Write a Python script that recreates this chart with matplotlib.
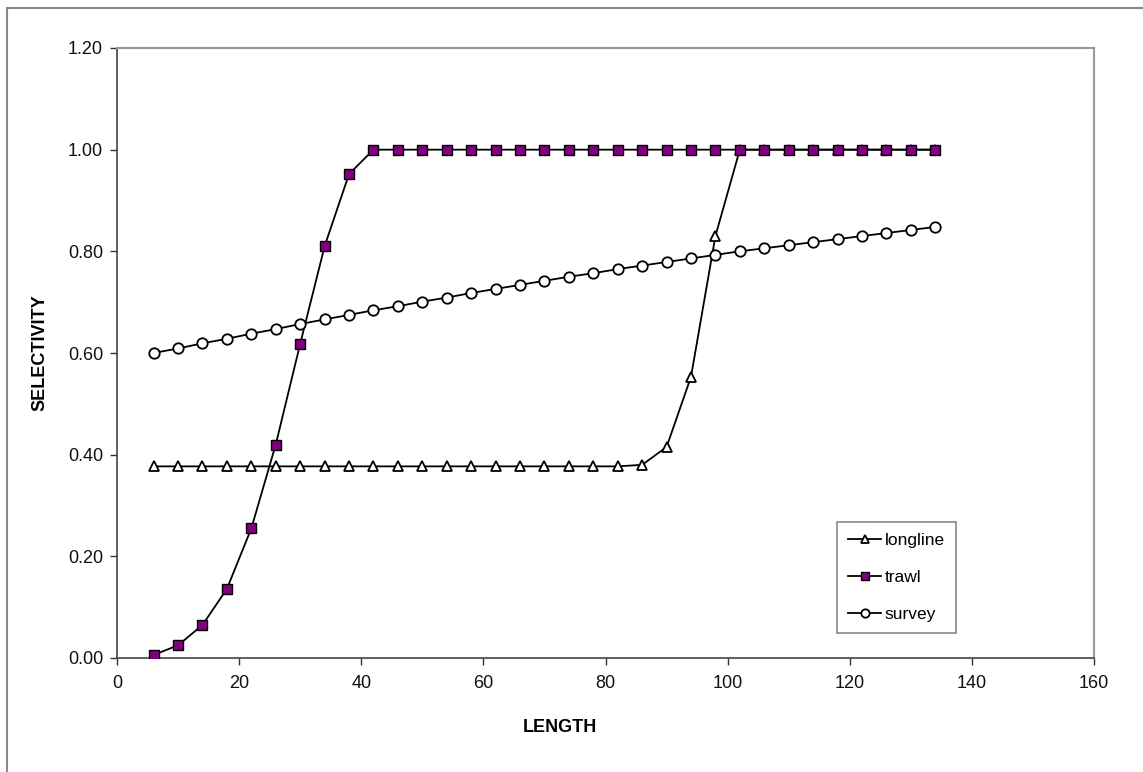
import matplotlib
matplotlib.use("Agg")
import matplotlib.pyplot as plt
from matplotlib.lines import Line2D

plt.rcParams['font.family'] = ['Liberation Sans', 'DejaVu Sans']

length = [6, 10, 14, 18, 22, 26, 30, 34, 38, 42, 46, 50, 54, 58, 62, 66, 70,
          74, 78, 82, 86, 90, 94, 98, 102, 106, 110, 114, 118, 122, 126, 130, 134]
longline = [0.377, 0.377, 0.377, 0.377, 0.377, 0.377, 0.377, 0.377, 0.377, 0.377,
            0.377, 0.377, 0.377, 0.377, 0.377, 0.377, 0.377, 0.377, 0.377, 0.377,
            0.380, 0.415, 0.553, 0.830, 1.0, 1.0, 1.0, 1.0, 1.0, 1.0, 1.0, 1.0, 1.0]
trawl = [0.006, 0.025, 0.065, 0.136, 0.255, 0.420, 0.618, 0.810, 0.952, 1.0,
         1.0, 1.0, 1.0, 1.0, 1.0, 1.0, 1.0, 1.0, 1.0, 1.0, 1.0, 1.0, 1.0, 1.0,
         1.0, 1.0, 1.0, 1.0, 1.0, 1.0, 1.0, 1.0, 1.0]
survey = [0.600, 0.609, 0.619, 0.628, 0.638, 0.647, 0.657, 0.666, 0.675, 0.684,
          0.692, 0.701, 0.709, 0.718, 0.726, 0.734, 0.742, 0.750, 0.757, 0.765,
          0.772, 0.779, 0.786, 0.793, 0.800, 0.806, 0.812, 0.818, 0.824, 0.830,
          0.836, 0.842, 0.848]

xticks = [0, 20, 40, 60, 80, 100, 120, 140, 160]
yticks = [0.0, 0.2, 0.4, 0.6, 0.8, 1.0, 1.2]

W, H = 1143, 772
fig = plt.figure(figsize=(W / 100, H / 100), dpi=100)
ax = fig.add_axes([117 / W, 1 - 658 / H, (1094 - 117) / W, (658 - 48) / H])

ax.plot(length, longline, color='black', lw=1.3, marker='^', ms=7,
        mfc='white', mec='black', mew=1.3, label='longline', zorder=3)
ax.plot(length, trawl, color='black', lw=1.3, marker='s', ms=7,
        mfc='#800080', mec='black', mew=1.0, label='trawl', zorder=4)
ax.plot(length, survey, color='black', lw=1.3, marker='o', ms=7.5,
        mfc='white', mec='black', mew=1.3, label='survey', zorder=5)

ax.set_xlim(0, 160)
ax.set_ylim(0, 1.2)
ax.set_xticks(xticks)
ax.set_yticks(yticks)
ax.set_yticklabels([f"{v:.2f}" for v in yticks])
ax.tick_params(axis='both', direction='out', length=5, width=1, colors='#333333',
               labelsize=13, labelcolor='#111111', pad=5)
ax.tick_params(axis='x', pad=7)

for s in ['left', 'bottom']:
    ax.spines[s].set_color('#444444')
    ax.spines[s].set_linewidth(1.2)
for s in ['top', 'right']:
    ax.spines[s].set_color('#999999')
    ax.spines[s].set_linewidth(1.5)

fig.text(560 / W, 1 - 727 / H, 'LENGTH', fontsize=13, fontweight='bold',
         ha='center', va='center')
fig.text(40 / W, 1 - 353 / H, 'SELECTIVITY', fontsize=13, fontweight='bold',
         ha='center', va='center', rotation=90)

leg = ax.legend(loc='lower left',
                bbox_to_anchor=((837 - 117) / (1094 - 117), (658 - 633) / (658 - 48)),
                fontsize=12.5, frameon=True, fancybox=False, framealpha=1,
                edgecolor='#888888', handlelength=1.9, handletextpad=0.2,
                labelspacing=1.25, borderpad=0.65, markerscale=0.8,
                borderaxespad=0)
leg.get_frame().set_linewidth(1.2)

fig.add_artist(Line2D([7 / W, 1.0], [1 - 8 / H, 1 - 8 / H], color='#888888',
                      lw=1.5, transform=fig.transFigure))
fig.add_artist(Line2D([7 / W, 7 / W], [0.0, 1 - 8 / H], color='#888888',
                      lw=1.5, transform=fig.transFigure))

fig.savefig('out.png', dpi=100)
